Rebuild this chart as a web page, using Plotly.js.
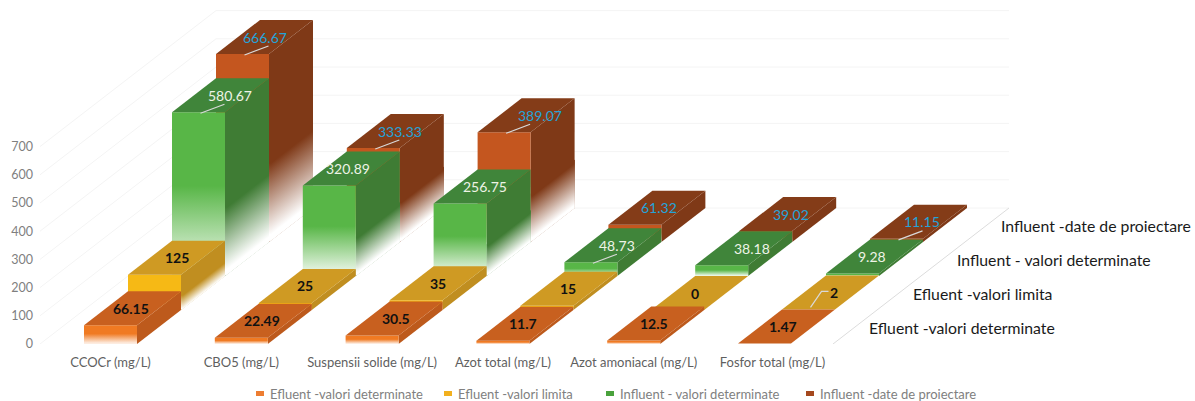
<!DOCTYPE html>
<html>
<head>
<meta charset="utf-8">
<script src="https://cdn.plot.ly/plotly-3.0.1.min.js"></script>
<style>html,body{margin:0;padding:0;background:#fff}</style>
</head>
<body>
<div id="chart" style="width:1195px;height:401px"></div>
<script>
// Parameters measured in four treatment stages, nearest stage first
const categories = ['CCOCr (mg/L)', 'CBO5 (mg/L)', 'Suspensii solide (mg/L)', 'Azot total (mg/L)', 'Azot amoniacal (mg/L)', 'Fosfor total (mg/L)'];
const seriesNames = ['Efluent -valori determinate', 'Efluent -valori limita', 'Influent - valori determinate', 'Influent -date de proiectare'];
const efluentDeterminate = [66.15, 22.49, 30.5, 11.7, 12.5, 1.47];
const efluentLimita = [125, 25, 35, 15, 0, 2];
const influentDeterminate = [580.67, 320.89, 256.75, 48.73, 38.18, 9.28];
const influentProiectare = [666.67, 333.33, 389.07, 61.32, 39.02, 11.15];
const yTicks = [0, 100, 200, 300, 400, 500, 600, 700];

const seriesValues = [efluentDeterminate, efluentLimita, influentDeterminate, influentProiectare];
const frontColors = ['#f07a22', '#f6b915', '#58b647', '#c4561f'];
const topColors = ['#c8601f', '#cf9a23', '#40853a', '#843c18'];
const sideColors = ['#bd5a1c', '#c08e20', '#3f7c34', '#7f3917'];
const legendColors = ['#ed7d31', '#f2b01e', '#4aa23c', '#a5481e'];
const labelColors = ['#111111', '#111111', '#eef3e6', '#25a3d8'];

// Horizontal nudges, in pixels, for labels that sit off their box centre
const labelNudge = [
  [-2, -1, 2, -2, -2, -4],
  [0, -2, 0, -1, -5, 3],
  [9, -3, 3, 4, 8, -3],
  [0, 5, 14, 2, 3, 3]
];

// Oblique projection, in axis units: one step back moves right and up
const pxX = 130.8, pxY = 0.282;
const barW = 53 / pxX, stepX = 44 / pxX, stepY = 34 / pxY;
const left = i => i - barW / 2;

const paleOf = (hex, keep) => {
  const c = [1, 3, 5].map(p => parseInt(hex.substr(p, 2), 16));
  return 'rgb(' + c.map(v => Math.round(255 - (255 - v) * keep)).join(',') + ')';
};

const traces = [];
const poly = (xs, ys, color, grad, pale) => {
  const t = {
    x: xs.concat(xs[0]), y: ys.concat(ys[0]), type: 'scatter', mode: 'lines',
    line: {width: 0}, fill: 'toself', fillcolor: color,
    hoverinfo: 'skip', showlegend: false
  };
  if (grad) {
    t.fillgradient = {
      type: 'vertical', start: grad[0], stop: grad[1],
      colorscale: [[0, pale || '#ffffff'], [1, color]]
    };
  }
  traces.push(t);
};
const wire = (xs, ys, color, width) => traces.push({
  x: xs, y: ys, type: 'scatter', mode: 'lines', line: {color, width: width || 1},
  hoverinfo: 'skip', showlegend: false
});

// Floor and wall rules
const wallX = -70.5 / pxX, floorX = 722.5 / pxX;
yTicks.forEach(v => {
  wire([wallX, wallX + 4 * stepX, floorX + 4 * stepX], [v, v + 4 * stepY, v + 4 * stepY], '#f4f4f4');
});
wire([floorX, floorX + 4 * stepX], [0, 4 * stepY], '#dcdcdc');

// Boxes go back to front, left to right within a row
for (let s = 3; s >= 0; s--) {
  seriesValues[s].forEach((v, i) => {
    const x0 = left(i) + s * stepX, x1 = x0 + barW, base = s * stepY, top = base + v;
    if (v > 0) {
      // side face: a solid panel; tall boxes get strips whose fade follows the rising lower edge
      poly([x1, x1 + stepX, x1 + stepX, x1], [base, base + stepY, top + stepY, top], sideColors[s]);
      if (v * pxY > 25) {
        const strips = 44;
        for (let k = strips - 1; k >= 0; k--) {
          const a = k / strips, b = Math.min(1, (k + 2.5) / strips);
          const fadeLo = 0.04 * v, fadeHi = 0.42 * v, cap = 0.44 * v;
          poly([x1 + a * stepX, x1 + b * stepX, x1 + b * stepX, x1 + a * stepX],
               [base + a * stepY, base + b * stepY, base + b * stepY + cap, base + a * stepY + cap],
               sideColors[s],
               [base + a * stepY + fadeLo, base + a * stepY + fadeHi]);
        }
      }
      // front face
      poly([x0, x1, x1, x0], [base, base, top, top], frontColors[s],
           [base + 0.05 * v, base + 0.55 * v], paleOf(frontColors[s], 0.14));
    }
    // top face
    poly([x0, x1, x1 + stepX, x0 + stepX], [top, top, top + stepY, top + stepY], topColors[s]);
  });
}

// Leader lines next to the labels that were moved off their box centre
const leaders = [[3, 0], [2, 0], [3, 1], [3, 2], [2, 3], [3, 5]];
leaders.forEach(([s, i]) => {
  const x = i + s * stepX, y = s * stepY + seriesValues[s][i];
  wire([x + 2 / pxX, x + 26 / pxX], [y - 1 / pxY, y + 8 / pxY], '#d9d9d9', 1.2);
});
{
  const x = 5 + stepX, y = stepY + efluentLimita[5];
  wire([x + 2 / pxX, x + 13 / pxX, x + 20 / pxX], [y + 2 / pxY, y + 18 / pxY, y + 18 / pxY], '#d9d9d9', 1.2);
}

// Value labels on the top faces, and series names along the depth edge
const annotations = [];
seriesValues.forEach((vals, s) => vals.forEach((v, i) => {
  annotations.push({
    x: i + s * stepX + stepX / 2, y: s * stepY + v + stepY / 2,
    text: s < 2 ? '<b>' + v + '</b>' : String(v),
    showarrow: false, xshift: labelNudge[s][i],
    font: {family: 'Lato, sans-serif', size: 14, color: labelColors[s]}
  });
}));
seriesNames.forEach((n, s) => annotations.push({
  x: floorX + s * stepX + 34 / pxX, y: s * stepY + 17 / pxY,
  text: n, showarrow: false, xanchor: 'left',
  font: {family: 'Lato, sans-serif', size: 15.8, color: '#1a1a1a'}
}));

// Legend row under the axis
const legendText = [268, 456, 618, 818];
const shapes = [];
seriesNames.forEach((n, s) => {
  const px = legendText[s];
  annotations.push({
    xref: 'paper', yref: 'paper', x: (px - 40) / 1155, y: -50 / 343,
    text: n, showarrow: false, xanchor: 'left', yanchor: 'middle',
    font: {family: 'Lato, sans-serif', size: 13, color: '#808080'}
  });
  shapes.push({
    type: 'rect', xref: 'paper', yref: 'paper', line: {width: 0}, fillcolor: legendColors[s],
    x0: (px - 12 - 40) / 1155, x1: (px - 4 - 40) / 1155, y0: -52 / 343, y1: -47 / 343
  });
});

Plotly.newPlot('chart', traces, {
  width: 1195, height: 401,
  margin: {l: 40, r: 0, t: 1, b: 57, pad: 0, autoexpand: false},
  paper_bgcolor: '#fff', plot_bgcolor: 'rgba(0,0,0,0)',
  font: {family: 'Lato, sans-serif'},
  showlegend: false,
  xaxis: {
    range: [-70.5 / pxX, 1084.5 / pxX], tickmode: 'array',
    tickvals: categories.map((c, i) => i === 5 ? i + 8 / pxX : i), ticktext: categories,
    showgrid: false, zeroline: false, showline: false, ticks: '',
    tickfont: {size: 13, color: '#5f5f5f'}, ticklabelstandoff: 9
  },
  yaxis: {
    range: [0, 343 / pxY], tickmode: 'array', tickvals: yTicks,
    showgrid: false, zeroline: false, showline: false, ticks: '',
    tickfont: {size: 12.5, color: '#7f7f7f'}, ticklabelstandoff: 6
  },
  annotations, shapes
}, {displayModeBar: false});
</script>
</body>
</html>
